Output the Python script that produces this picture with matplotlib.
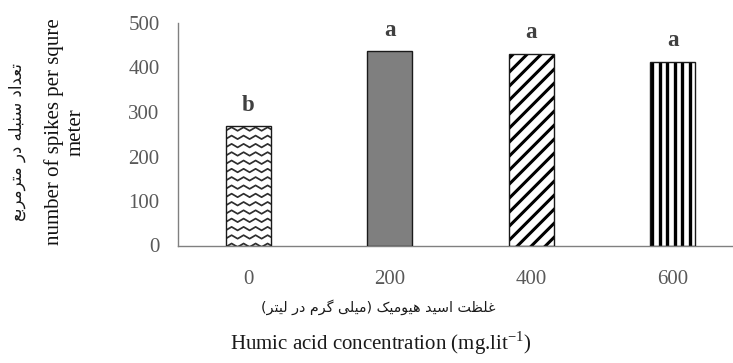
import matplotlib
matplotlib.use("Agg")
import matplotlib.pyplot as plt
import numpy as np
from matplotlib.collections import LineCollection
from matplotlib.transforms import IdentityTransform

# ---------------- data ----------------
categories = ["0", "200", "400", "600"]
values = [269, 437, 431, 413]
letters = ["b", "a", "a", "a"]
yticks = [0, 100, 200, 300, 400, 500]

ylabel_fa = "تعداد سنبله در مترمربع"
ylabel_en = "number of spikes per squre\nmeter"
xlabel_fa = "غلظت اسید هیومیک (میلی گرم در لیتر)"
xlabel_en = r"Humic acid concentration (mg.lit$^{\mathregular{-1}}$)"

# ---------------- simple Persian shaping (presentation forms, visual order) ----------------
FORMS = {
    'ا': ('\uFE8D', '\uFE8E', None, None),
    'ب': ('\uFE8F', '\uFE90', '\uFE91', '\uFE92'),
    'ت': ('\uFE95', '\uFE96', '\uFE97', '\uFE98'),
    'د': ('\uFEA9', '\uFEAA', None, None),
    'ر': ('\uFEAD', '\uFEAE', None, None),
    'س': ('\uFEB1', '\uFEB2', '\uFEB3', '\uFEB4'),
    'ظ': ('\uFEC5', '\uFEC6', '\uFEC7', '\uFEC8'),
    'ع': ('\uFEC9', '\uFECA', '\uFECB', '\uFECC'),
    'غ': ('\uFECD', '\uFECE', '\uFECF', '\uFED0'),
    'ل': ('\uFEDD', '\uFEDE', '\uFEDF', '\uFEE0'),
    'م': ('\uFEE1', '\uFEE2', '\uFEE3', '\uFEE4'),
    'ن': ('\uFEE5', '\uFEE6', '\uFEE7', '\uFEE8'),
    'ه': ('\uFEE9', '\uFEEA', '\uFEEB', '\uFEEC'),
    'و': ('\uFEED', '\uFEEE', None, None),
    'ی': ('\uFBFC', '\uFBFD', '\uFBFE', '\uFBFF'),
    'ک': ('\uFB8E', '\uFB8F', '\uFB90', '\uFB91'),
    'گ': ('\uFB92', '\uFB93', '\uFB94', '\uFB95'),
}


def shape_fa(s):
    out = []
    n = len(s)
    for i, ch in enumerate(s):
        if ch not in FORMS:
            out.append(ch)
            continue
        prev = s[i - 1] if i > 0 else None
        nxt = s[i + 1] if i < n - 1 else None
        jp = prev in FORMS and FORMS[prev][2] is not None
        jn = FORMS[ch][2] is not None and nxt in FORMS
        iso, fin, ini, med = FORMS[ch]
        if jp and jn:
            out.append(med)
        elif jp:
            out.append(fin)
        elif jn:
            out.append(ini)
        else:
            out.append(iso)
    vis = "".join(reversed(out))
    swap = {"(": ")", ")": "("}
    return "".join(swap.get(c, c) for c in vis)


plt.rcParams['font.family'] = ['Liberation Serif', 'DejaVu Sans']
plt.rcParams['mathtext.fontset'] = 'custom'
plt.rcParams['mathtext.rm'] = 'Liberation Serif'

W, H = 733, 363
fig = plt.figure(figsize=(W / 100, H / 100), dpi=100)
ax_left, ax_bottom_px, ax_top_px = 177.5, 245.5, 23.0
cat_w = 141.5
ax = fig.add_axes([ax_left / W, (H - ax_bottom_px) / H,
                   4 * cat_w / W, (ax_bottom_px - ax_top_px) / H])

x = np.arange(len(categories))
bar_w = 0.32
faces = ["white", "#7f7f7f", "white", "white"]
bars = ax.bar(x, values, width=bar_w, color=faces, edgecolor="#1a1a1a",
              linewidth=1.0, zorder=3)

ax.set_xlim(-0.5, len(categories) - 0.5)
ax.set_ylim(0, 500)
ax.set_yticks(yticks)
ax.set_xticks(x)
ax.set_xticklabels(categories)
for s in ["top", "right"]:
    ax.spines[s].set_visible(False)
for s in ["left", "bottom"]:
    ax.spines[s].set_color("#808080")
    ax.spines[s].set_linewidth(1.0)
ax.tick_params(axis="both", length=0, labelsize=15, labelcolor="#595959")
ax.tick_params(axis="y", pad=13)
ax.tick_params(axis="x", pad=18)

# ---------------- custom fills (clipped to each bar) ----------------
trans = ax.transData


def bar_px(b):
    (x0, y0), (x1, y1) = trans.transform([(b.get_x(), b.get_y()),
                                          (b.get_x() + b.get_width(), b.get_y() + b.get_height())])
    return x0, y0, x1, y1


def add_clipped(segs, b, color, lw):
    lc = LineCollection(segs, colors=color, linewidths=lw, transform=IdentityTransform(), zorder=2.5)
    ax.add_collection(lc)
    lc.set_clip_path(b)


# white backgrounds under the patterned bars
ax.bar(x, values, width=bar_w, color=faces, edgecolor="none", zorder=1)

# zigzag (bar 0)
x0, y0, x1, y1 = bar_px(bars[0])
segs = []
yy = y1 - 5
while yy > y0 - 10:
    xs = np.arange(x0 - 12, x1 + 12, 6.0)
    ys = yy + np.where((np.arange(len(xs)) % 2) == 0, 0.0, 3.5)
    segs.append(np.column_stack([xs, ys]))
    yy -= 8.3
add_clipped(segs, bars[0], "#2e2e2e", 1.25)

# diagonal stripes (bar 2)
x0, y0, x1, y1 = bar_px(bars[2])
segs = []
c = y0 - (x1 - x0) - 20
while c < y1 + 20:
    segs.append([(x0 - 5, c + (-5)), (x1 + 5, c + (x1 - x0) + 5)])
    c += 14.0
add_clipped(segs, bars[2], "black", 2.2)

# vertical stripes (bar 3)
x0, y0, x1, y1 = bar_px(bars[3])
segs = []
xx = x0 + 2.0
while xx < x1:
    segs.append([(xx, y0), (xx, y1)])
    xx += 7.5
add_clipped(segs, bars[3], "black", 2.4)

# outlines on top (patterned bars transparent)
for i, b in enumerate(bars):
    if i != 1:
        b.set_facecolor("none")

# significance letters
for i, (v, t) in enumerate(zip(values, letters)):
    ax.annotate(t, xy=(i, v), xytext=(0, 11), textcoords="offset points",
                ha="center", va="baseline", fontsize=16.5, fontweight="bold",
                color="#404040")

# axis labels
fig.text(17 / W, 1 - 142 / H, shape_fa(ylabel_fa), rotation=90, ha="center", va="center",
         fontsize=12, family=["DejaVu Sans"], color="#1a1a1a")
fig.text(65 / W, 1 - 132 / H, ylabel_en, rotation=90, ha="center", va="center",
         fontsize=15, color="#111111", linespacing=1.15, multialignment="center")
fig.text(378 / W, 1 - 307 / H, shape_fa(xlabel_fa), ha="center", va="center",
         fontsize=10.3, family=["DejaVu Sans"], color="#1a1a1a")
fig.text(381 / W, 1 - 343 / H, xlabel_en, ha="center", va="center",
         fontsize=15, color="#1a1a1a")

fig.savefig("out.png", dpi=100)
